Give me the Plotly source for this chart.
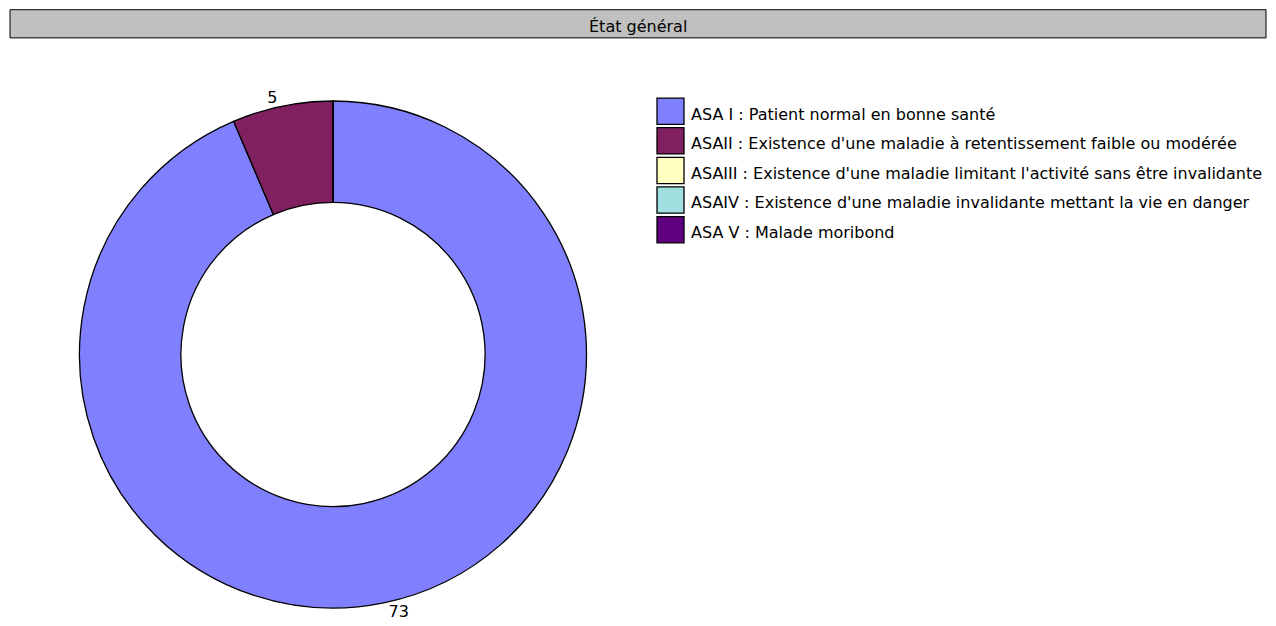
import plotly.graph_objects as go

W, H = 1276, 626

title = "État général"
categories = [
    "ASA I : Patient normal en bonne santé",
    "ASAII : Existence d'une maladie à retentissement faible ou modérée",
    "ASAIII : Existence d'une maladie limitant l'activité sans être invalidante",
    "ASAIV : Existence d'une maladie invalidante mettant la vie en danger",
    "ASA V : Malade moribond",
]
values = [73, 5, 0, 0, 0]
colors = ["#8080FF", "#802060", "#FFFFC0", "#A0E0E0", "#600080"]

FONT = "DejaVu Sans, Arial, sans-serif"


def px(x):
    return x / W


def py(y):
    return 1 - y / H


labels_txt = [str(v) if v > 0 else "" for v in values]

fig = go.Figure()
fig.add_trace(go.Pie(
    labels=categories,
    values=values,
    text=labels_txt,
    textinfo="text",
    textposition="outside",
    textfont=dict(family=FONT, size=16, color="black"),
    marker=dict(colors=colors, line=dict(color="black", width=1.3)),
    hole=0.6,
    sort=False,
    direction="clockwise",
    rotation=0,
    showlegend=False,
    hoverinfo="label+value",
    domain=dict(x=[px(72), px(594)], y=[py(626), py(104)]),
))

shapes = []
annotations = []

# title banner
shapes.append(dict(type="rect", xref="paper", yref="paper",
                   x0=px(10), x1=px(1266), y0=py(39), y1=py(10),
                   fillcolor="#C0C0C0", line=dict(color="black", width=1), layer="below"))
annotations.append(dict(text=title, xref="paper", yref="paper", x=px(638), y=py(27),
                        showarrow=False, xanchor="center", yanchor="middle",
                        font=dict(family=FONT, size=16, color="black")))

# legend
top0, step, box = 101, 30.5, 27
for i, (lab, col) in enumerate(zip(categories, colors)):
    t = top0 + i * step
    shapes.append(dict(type="rect", xref="paper", yref="paper",
                       x0=px(657), x1=px(657 + box), y0=py(t + box), y1=py(t),
                       fillcolor=col, line=dict(color="black", width=1.3)))
    annotations.append(dict(text=lab, xref="paper", yref="paper", x=px(689), y=py(t + box / 2 + 3),
                            showarrow=False, xanchor="left", yanchor="middle",
                            font=dict(family=FONT, size=16, color="black")))

fig.update_layout(
    width=W, height=H,
    margin=dict(l=0, r=0, t=0, b=0),
    paper_bgcolor="white", plot_bgcolor="white",
    shapes=shapes, annotations=annotations,
    showlegend=False,
)

fig.write_html("out.html")
